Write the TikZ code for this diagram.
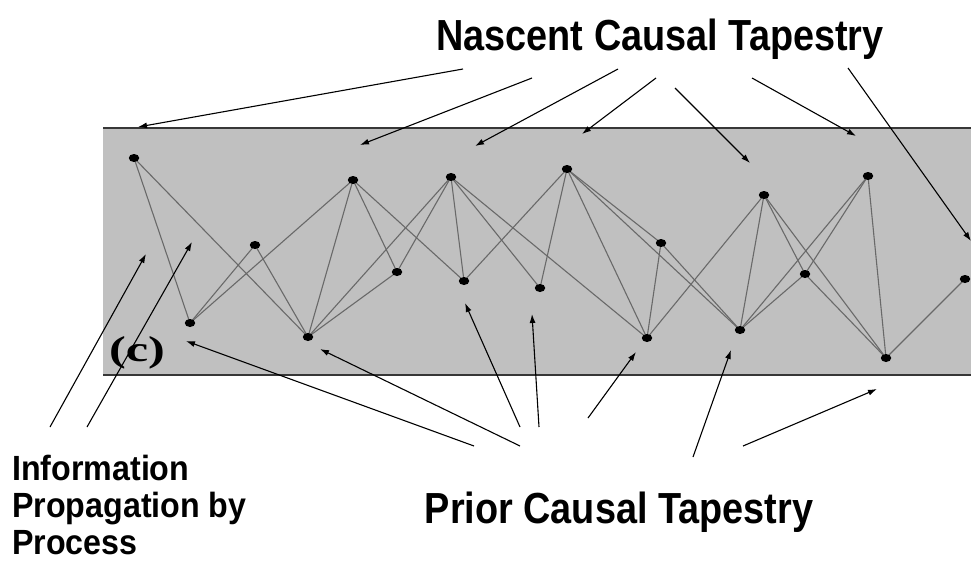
\documentclass[tikz,border=0pt]{standalone}
\usepackage{fontspec}
\setmainfont{Liberation Sans}
\newfontfamily\labelfont[FakeStretch=0.87]{Liberation Sans}
\newfontfamily\sidefont[FakeStretch=0.92]{Liberation Sans}
\newfontfamily\tagfont[FakeStretch=1.4]{Liberation Serif}
\usetikzlibrary{arrows.meta,shapes.geometric}
\pgfdeclarelayer{bandlayer}
\pgfdeclarelayer{edgelayer}
\pgfsetlayers{bandlayer,edgelayer,main}
\definecolor{bandgray}{RGB}{192,192,192}
\definecolor{bandline}{RGB}{55,55,55}
\definecolor{edgegray}{RGB}{105,105,105}
\begin{document}
\begin{tikzpicture}[x=1pt,y=-1pt,
  event/.style={ellipse,fill=black,draw=none,inner sep=0pt,minimum width=10.5pt,minimum height=8pt},
  link/.style={draw=edgegray,line width=1.1pt},
  pointer/.style={draw=black,line width=1.1pt,-{Latex[length=9pt,width=6pt]}},
  bigtext/.style={font=\labelfont\bfseries\fontsize{43.5}{46}\selectfont,inner sep=0pt},
  sidetext/.style={font=\sidefont\bfseries\fontsize{35}{37}\selectfont,inner sep=0pt,align=left},
  tagtext/.style={font=\tagfont\bfseries\fontsize{36}{38}\selectfont,inner sep=0pt}
]
\useasboundingbox (0,0) rectangle (971,565);

% band
\begin{pgfonlayer}{bandlayer}
  \fill[bandgray] (103,128) rectangle (971,375);
  \draw[bandline,line width=2pt] (103,128) -- (971,128);
  \draw[bandline,line width=2pt] (103,375) -- (971,375);
\end{pgfonlayer}

% events
\node[event] (A) at (134,158) {};
\node[event] (B) at (190,323) {};
\node[event] (C) at (255,245) {};
\node[event] (D) at (308,337) {};
\node[event] (E) at (353,180) {};
\node[event] (F) at (397,272) {};
\node[event] (G) at (451,177) {};
\node[event] (H) at (464,281) {};
\node[event] (I) at (540,288) {};
\node[event] (J) at (567,169) {};
\node[event] (K) at (647,338) {};
\node[event] (L) at (661,243) {};
\node[event] (M) at (740,330) {};
\node[event] (N) at (764,195) {};
\node[event] (O) at (805,274) {};
\node[event] (P) at (868,176) {};
\node[event] (Q) at (886,358) {};
\node[event] (R) at (965,279) {};

\begin{pgfonlayer}{edgelayer}
  \foreach \a/\b in {A/B,A/D,B/C,B/E,C/D,D/E,D/F,D/G,E/F,E/H,F/G,G/H,G/I,G/K,
                     J/H,J/I,J/K,J/L,J/M,L/K,L/M,N/K,N/M,N/O,N/Q,M/P,M/O,O/P,O/Q,P/Q,Q/R}
    \draw[link] (\a.center) -- (\b.center);
\end{pgfonlayer}

% labels
\node[bigtext,anchor=base] (nascent) at (660,50) {Nascent Causal Tapestry};
\node[bigtext,anchor=base] (prior) at (619,523) {Prior Causal Tapestry};
\node[sidetext,anchor=north west] (info) at (12,455) {Information\\Propagation by\\Process};
\node[tagtext] (tag) at (137,353) {(c)};

% arrows from Nascent label
\coordinate (n1s) at (463,69);  \coordinate (n1t) at (138,127);
\coordinate (n2s) at (532,78);  \coordinate (n2t) at (360,145);
\coordinate (n3s) at (618,69);  \coordinate (n3t) at (475,146);
\coordinate (n4s) at (656,78);  \coordinate (n4t) at (582,134);
\coordinate (n5s) at (675,88);  \coordinate (n5t) at (750,163);
\coordinate (n6s) at (752,78);  \coordinate (n6t) at (856,136);
\coordinate (n7s) at (848,68);  \coordinate (n7t) at (971,241);
\foreach \k in {1,...,7} \draw[pointer] (n\k s) -- (n\k t);

% arrows from Prior label
\coordinate (p1s) at (474,446); \coordinate (p1t) at (186,341);
\coordinate (p2s) at (520,446); \coordinate (p2t) at (320,349);
\coordinate (p3s) at (520,427); \coordinate (p3t) at (465,303);
\coordinate (p4s) at (539,427); \coordinate (p4t) at (532,314);
\coordinate (p5s) at (588,418); \coordinate (p5t) at (636,352);
\coordinate (p6s) at (693,457); \coordinate (p6t) at (731,350);
\coordinate (p7s) at (743,446); \coordinate (p7t) at (877,389);
\foreach \k in {1,...,7} \draw[pointer] (p\k s) -- (p\k t);

% arrows from Information label
\coordinate (i1s) at (50,427);  \coordinate (i1t) at (146,254);
\coordinate (i2s) at (87,427);  \coordinate (i2t) at (192,242);
\foreach \k in {1,2} \draw[pointer] (i\k s) -- (i\k t);
\end{tikzpicture}
\end{document}
